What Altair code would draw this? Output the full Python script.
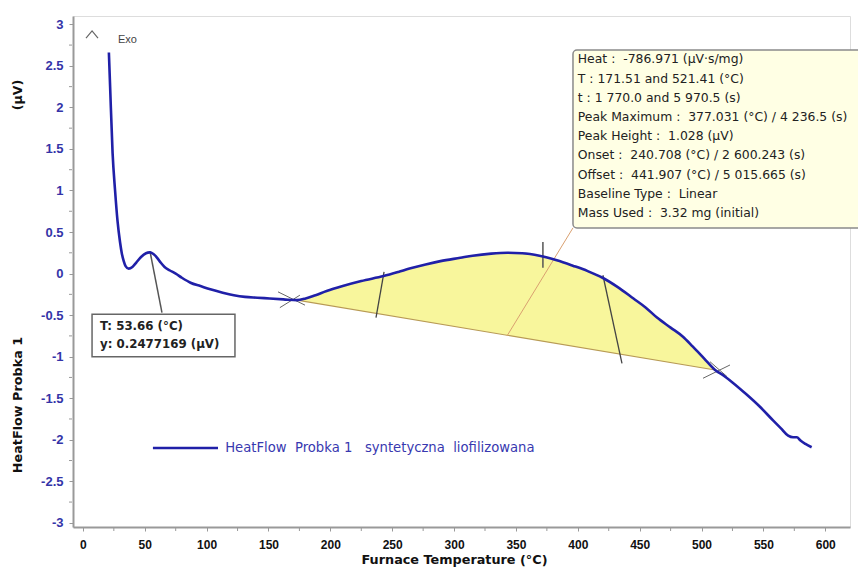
import altair as alt
import numpy as np
import pandas as pd

# ---------------- data ----------------
curve_T = [21, 22, 24, 26, 28, 30, 31.5, 33, 34.5, 37, 40, 43, 47, 51, 54, 57, 60, 63, 66, 70,
           75, 80, 87, 95, 103, 113, 122, 131, 141, 151, 162, 173, 180, 188, 197, 210, 225, 243,
           255, 264, 277, 289, 305, 315, 330, 343, 355, 369, 383, 396, 408, 420, 432, 445, 455,
           464, 475, 485, 493, 502, 511, 518, 525, 536, 547, 558, 564, 570, 574, 577, 580, 584, 589]
curve_v = [2.66, 2.25, 1.45, 1.0, 0.63, 0.38, 0.24, 0.15, 0.09, 0.06, 0.08, 0.13, 0.2, 0.245, 0.255,
           0.235, 0.19, 0.13, 0.08, 0.04, 0.0, -0.05, -0.11, -0.15, -0.19, -0.23, -0.26, -0.28, -0.29,
           -0.30, -0.31, -0.32, -0.30, -0.26, -0.21, -0.15, -0.09, -0.03, 0.02, 0.06, 0.11, 0.15, 0.19,
           0.215, 0.24, 0.25, 0.245, 0.215, 0.16, 0.095, 0.03, -0.05, -0.16, -0.30, -0.41, -0.53, -0.65,
           -0.76, -0.88, -1.02, -1.16, -1.23, -1.31, -1.45, -1.60, -1.77, -1.86, -1.95, -1.97, -1.97,
           -2.01, -2.05, -2.09]

base_T = [173, 511]
base_v = [-0.32, -1.16]

x_ticks = [0, 50, 100, 150, 200, 250, 300, 350, 400, 450, 500, 550, 600]
x_minor = [25, 75, 125, 175, 225, 275, 325, 375, 425, 475, 525, 575]
y_ticks = [-3, -2.5, -2, -1.5, -1, -0.5, 0, 0.5, 1, 1.5, 2, 2.5, 3]
y_minor = [-2.75, -2.25, -1.75, -1.25, -0.75, -0.25, 0.25, 0.75, 1.25, 1.75, 2.25, 2.75]

# annotation segments (data units): x0, y0, x1, y1
seg_x0 = [243.4, 420.3, 371.8, 342.8, 54.2, 157.7, 159.2, 501.2, 506.8]
seg_y0 = [0.02, -0.02, 0.38, -0.75, 0.27, -0.22, -0.41, -1.26, -1.06]
seg_x1 = [236.9, 435.7, 371.8, 396.1, 63.9, 179.5, 175.4, 523.0, 520.6]
seg_y1 = [-0.53, -1.08, 0.07, 0.55, -0.47, -0.38, -0.26, -1.10, -1.24]
seg_col = ["#444444", "#444444", "#555555", "#d9a070", "#555555", "#666666", "#666666", "#666666", "#666666"]
seg_w = [1.3, 1.3, 1.5, 1.0, 1.5, 1.0, 1.0, 1.0, 1.0]

NB = "\u00a0"
info_lines = [
    "Heat :" + NB * 2 + "-786.971 (µV·s/mg)",
    "T : 171.51 and 521.41 (°C)",
    "t : 1" + NB + "770.0 and 5" + NB + "970.5 (s)",
    "Peak Maximum :" + NB * 2 + "377.031 (°C) / 4" + NB + "236.5 (s)",
    "Peak Height :" + NB * 2 + "1.028 (µV)",
    "Onset :" + NB * 2 + "240.708 (°C) / 2" + NB + "600.243 (s)",
    "Offset :" + NB * 2 + "441.907 (°C) / 5" + NB + "015.665 (s)",
    "Baseline Type :" + NB * 2 + "Linear",
    "Mass Used :" + NB * 2 + "3.32 mg (initial)",
]
point_lines = ["T: 53.66 (°C)", "y: 0.2477169 (µV)"]
legend_label = "HeatFlow" + NB * 2 + "Probka 1" + NB * 3 + "syntetyczna" + NB * 2 + "liofilizowana"

exo_T = [2.5, 7.4, 12.2]
exo_v = [2.835, 2.92, 2.835]

# ---------------- chart ----------------
W, H = 777, 511
x_scale = alt.Scale(domain=[-8, 620], nice=False, zero=False)
y_scale = alt.Scale(domain=[-3.05, 3.1], nice=False, zero=False)
FONT = "Liberation Sans"
WIDE = "DejaVu Sans"

x_axis = alt.Axis(values=x_ticks, title="Furnace Temperature (°C)", grid=False,
                  labelFont=FONT, labelFontWeight="bold", labelFontSize=12, labelColor="#111111",
                  titleFont=WIDE, titleFontWeight="bold", titleFontSize=12.8, titleColor="#111111",
                  titlePadding=3, titleX=381, labelPadding=8, tickSize=4, tickColor="#999999",
                  domainColor="#999999", domainWidth=2)
y_axis = alt.Axis(values=y_ticks, title=None, grid=False, labelExpr="'' + datum.value",
                  labelFont=FONT, labelFontWeight="bold", labelFontSize=13, labelColor="#3434a8",
                  labelPadding=6, tickSize=4, tickColor="#999999",
                  domainColor="#999999", domainWidth=2)


def X(f):
    return alt.X(f, type="quantitative", scale=x_scale, axis=x_axis)


def Y(f):
    return alt.Y(f, type="quantitative", scale=y_scale, axis=y_axis)


df_curve = pd.DataFrame({"T": curve_T, "v": curve_v})
df_area = df_curve[(df_curve["T"] >= base_T[0]) & (df_curve["T"] <= base_T[1])].copy()
df_area["b"] = np.interp(df_area["T"], base_T, base_v)
df_base = pd.DataFrame({"T": base_T, "v": base_v})
df_seg = pd.DataFrame({"x0": seg_x0, "y0": seg_y0, "x1": seg_x1, "y1": seg_y1,
                       "c": seg_col, "w": seg_w})

area = alt.Chart(df_area).mark_area(color="#f8f69c", opacity=1, interpolate="monotone").encode(
    x=X("T"), y=Y("v"), y2=alt.Y2("b"))
baseline = alt.Chart(df_base).mark_line(color="#b89a55", strokeWidth=1.1).encode(x=X("T"), y=Y("v"))
segs = alt.Chart(df_seg).mark_rule().encode(
    x=X("x0"), y=Y("y0"), x2=alt.X2("x1"), y2=alt.Y2("y1"),
    color=alt.Color("c:N", scale=None), strokeWidth=alt.StrokeWidth("w:Q", scale=None))
curve = alt.Chart(df_curve).mark_line(color="#2020a8", strokeWidth=2.6, interpolate="monotone").encode(
    x=X("T"), y=Y("v"), order="T:Q")

minor_x = alt.Chart(pd.DataFrame({"T": x_minor})).mark_rule(color="#999999").encode(
    x=X("T"), y=alt.value(H + 1), y2=alt.value(H + 4))
minor_y = alt.Chart(pd.DataFrame({"v": y_minor})).mark_rule(color="#999999").encode(
    y=Y("v"), x=alt.value(-1), x2=alt.value(-4))

# info box
df_box = pd.DataFrame({"x0": [396.1], "x1": [630.4], "y0": [2.69], "y1": [0.55]})
info_box = alt.Chart(df_box).mark_rect(fill="#ffffe4", stroke="#8a8a8a", strokeWidth=1.5,
                                       cornerRadius=4).encode(
    x=X("x0"), x2=alt.X2("x1"), y=Y("y0"), y2=alt.Y2("y1"))
info_text = alt.Chart(pd.DataFrame({"x": [400.0], "y": [2.65], "t": ["\n".join(info_lines)]})).mark_text(
    align="left", baseline="top", lineBreak="\n", lineHeight=19.2, font=WIDE, fontSize=12.4,
    color="#222222").encode(x=X("x"), y=Y("y"), text="t:N")

# point annotation box
df_pbox = pd.DataFrame({"x0": [7.4], "x1": [122.9], "y0": [-0.49], "y1": [-1.00]})
p_box = alt.Chart(df_pbox).mark_rect(fill="white", stroke="#666666", strokeWidth=1.5).encode(
    x=X("x0"), x2=alt.X2("x1"), y=Y("y0"), y2=alt.Y2("y1"))
p_text = alt.Chart(pd.DataFrame({"x": [13.8], "y": [-0.57], "t": ["\n".join(point_lines)]})).mark_text(
    align="left", baseline="top", lineBreak="\n", lineHeight=18, font=WIDE, fontSize=11.8,
    fontWeight="bold", color="#222222").encode(x=X("x"), y=Y("y"), text="t:N")

# legend
leg_line = alt.Chart(pd.DataFrame({"x0": [56.6], "x1": [109.2], "y": [-2.10]})).mark_rule(
    color="#2020a8", strokeWidth=2.5).encode(x=X("x0"), x2=alt.X2("x1"), y=Y("y"))
leg_text = alt.Chart(pd.DataFrame({"x": [115.0], "y": [-2.10], "t": [legend_label]})).mark_text(
    align="left", baseline="middle", font=WIDE, fontSize=13.2, color="#3838b0").encode(
    x=X("x"), y=Y("y"), text="t:N")

# Exo marker
exo_line = alt.Chart(pd.DataFrame({"T": exo_T, "v": exo_v, "o": [0, 1, 2]})).mark_line(
    color="#666666", strokeWidth=1.2).encode(x=X("T"), y=Y("v"), order="o:Q")
exo_text = alt.Chart(pd.DataFrame({"x": [28.4], "y": [2.81], "t": ["Exo"]})).mark_text(
    align="left", baseline="middle", font=FONT, fontSize=11, color="#444444").encode(
    x=X("x"), y=Y("y"), text="t:N")

# y title pieces (placed in pixels left of the axis)
yt1 = alt.Chart(pd.DataFrame({"t": ["(µV)"]})).mark_text(
    angle=270, font=WIDE, fontSize=12.5, fontWeight="bold", color="#111111",
    align="center", baseline="middle").encode(x=alt.value(-55), y=alt.value(79), text="t:N")
yt2 = alt.Chart(pd.DataFrame({"t": ["HeatFlow Probka 1"]})).mark_text(
    angle=270, font=WIDE, fontSize=12.8, fontWeight="bold", color="#111111",
    align="center", baseline="middle").encode(x=alt.value(-55), y=alt.value(389), text="t:N")

chart = alt.layer(
    area, baseline, segs, curve, minor_x, minor_y, info_box, info_text, p_box, p_text,
    leg_line, leg_text, exo_line, exo_text, yt1, yt2
).properties(
    width=W, height=H,
    padding={"left": 65, "top": 8, "right": 8, "bottom": 45},
    autosize=alt.AutoSizeParams(type="none"),
).configure_view(stroke=None).configure(background="white")

chart.save("out.html", embed_options={"renderer": "svg", "actions": False})
